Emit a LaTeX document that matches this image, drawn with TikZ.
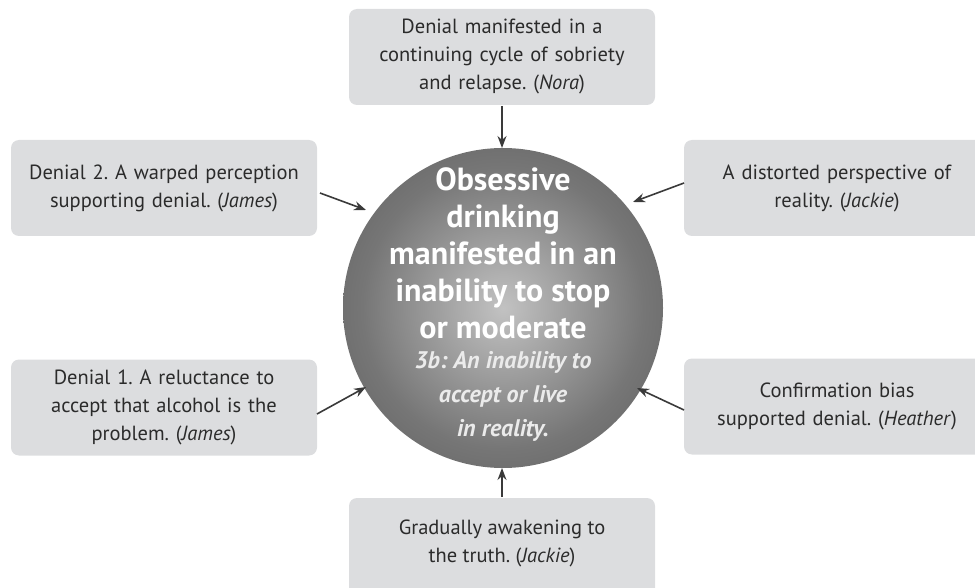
\documentclass[tikz,border=0pt]{standalone}
\usepackage{fontspec}
\setmainfont{PT Sans}
\usetikzlibrary{arrows.meta}
\definecolor{boxgray}{HTML}{DCDDDF}
\definecolor{txt}{HTML}{2B2B2B}
\definecolor{arr}{HTML}{3A3A3A}
\definecolor{hubin}{HTML}{C2C2C2}
\definecolor{hubmid}{HTML}{767676}
\definecolor{hubout}{HTML}{464646}
\pgfdeclareradialshading{hubshade}{\pgfpoint{0bp}{0bp}}{color(0bp)=(hubin); color(22bp)=(hubmid); color(48bp)=(hubout); color(50bp)=(hubout)}
\begin{document}
\frenchspacing
\begin{tikzpicture}[x=1pt,y=-1pt,
  card/.style={fill=boxgray,rounded corners=8pt,minimum width=306pt,minimum height=96pt,
    text width=300pt,align=center,inner sep=0pt,text=txt,
    font=\fontsize{20.5}{28}\selectfont},
  link/.style={draw=arr,line width=1.6pt,-{Stealth[length=12pt,width=9pt]}}]
\useasboundingbox (0,0) rectangle (975,588);
\begin{scope}
\clip (0,0) rectangle (975,588);
\node[card] (top) at (502,57) {Denial manifested in a\\ continuing cycle of sobriety\\ and relapse. (\textit{Nora})};
\node[card] (lu) at (164,188) {Denial 2. A warped perception\\ supporting denial. (\textit{James})};
\node[card] (ru) at (837,188) {A distorted perspective of\\ reality. (\textit{Jackie})};
\node[card] (ll) at (164,407.5) {Denial 1. A reluctance to\\ accept that alcohol is the\\ problem. (\textit{James})};
\node[card] (rl) at (837,406.5) {Confirmation bias\\ supported denial. (\textit{Heather})};
\node[card,minimum height=110pt] (bot) at (502,553) {};
\node[text=txt,font=\fontsize{20.5}{28}\selectfont,align=center] (bottxt) at (502,543) {Gradually awakening to\\ the truth. (\textit{Jackie})};
\end{scope}
\shade[shading=hubshade] (503,308) circle (160);
\node[circle,minimum size=320pt,inner sep=0pt] (hub) at (503,308) {};
\node[text=white,align=center,font=\bfseries\fontsize{32}{37}\selectfont] (title) at (503,253) {Obsessive\\ drinking\\ manifested in an\\ inability to stop\\ or moderate};
\node[text=white!92!black,align=center,font=\bfseries\itshape\fontsize{24}{34}\selectfont] (sub) at (503,396) {3b: An inability to\\ accept or live\\ in reality.};
\coordinate (a1) at (502,106); \coordinate (t1) at (502,148);
\coordinate (a2) at (320,193); \coordinate (t2) at (366,210);
\coordinate (a3) at (684,183); \coordinate (t3) at (633,202);
\coordinate (a4) at (317,414); \coordinate (t4) at (366,387);
\coordinate (a5) at (684,410); \coordinate (t5) at (637,388);
\coordinate (a6) at (502,497); \coordinate (t6) at (502,468);
\draw[link] (a1) -- (t1);
\draw[link] (a2) -- (t2);
\draw[link] (a3) -- (t3);
\draw[link] (a4) -- (t4);
\draw[link] (a5) -- (t5);
\draw[link] (a6) -- (t6);
\end{tikzpicture}
\end{document}
